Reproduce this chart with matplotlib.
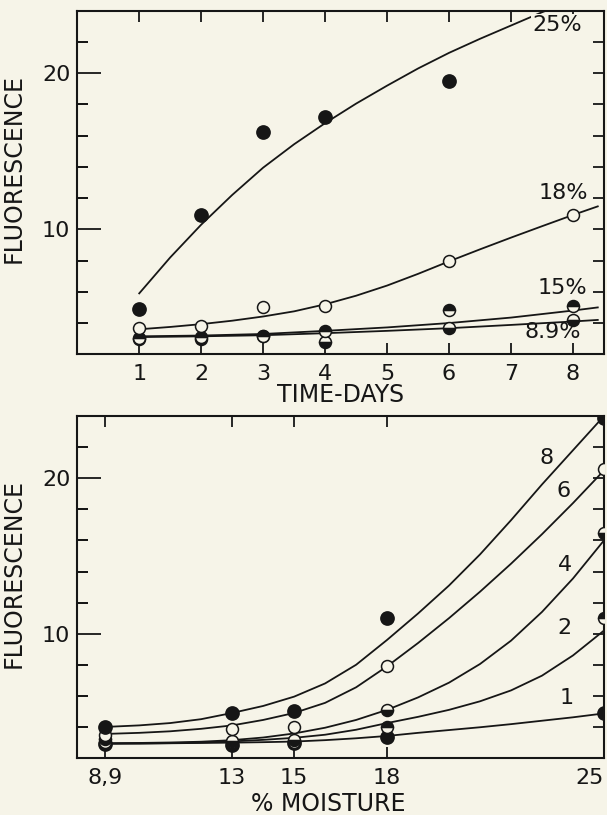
import numpy as np
import matplotlib
matplotlib.use("Agg")
import matplotlib.pyplot as plt

# top panel: fluorescence against time, one series per moisture level
days = [1, 2, 3, 4, 6, 8]
pts25 = [4.9, 10.9, 16.2, 17.2, 19.5]          # days 1..6 only
pts18 = [3.7, 3.8, 5.05, 5.1, 8.0, 10.9]
pts15 = [3.05, 3.1, 3.2, 3.5, 4.85, 5.1]
pts89 = [3.0, 3.0, 3.15, 2.8, 3.7, 4.2]

# hand drawn curves
curveDays25 = [1, 1.5, 2, 2.5, 3, 3.5, 4, 4.5, 5, 5.5, 6, 6.5, 7, 7.5, 7.6]
curve25 = [5.9, 8.2, 10.3, 12.2, 13.95, 15.45, 16.8, 18.05, 19.2, 20.3, 21.3, 22.2, 23.05, 23.9, 24.05]
curveDays18 = [1, 1.5, 2, 2.5, 3, 3.5, 4, 4.5, 5, 5.5, 6, 6.5, 7, 7.5, 8, 8.4]
curve18 = [3.6, 3.75, 3.93, 4.15, 4.42, 4.75, 5.2, 5.75, 6.4, 7.15, 7.95, 8.72, 9.47, 10.2, 10.92, 11.47]
curveDays = [1, 2, 3, 4, 5, 6, 7, 8, 8.4]
curve15 = [3.15, 3.2, 3.3, 3.5, 3.72, 4.0, 4.35, 4.8, 5.0]
curve89 = [3.1, 3.15, 3.22, 3.35, 3.5, 3.67, 3.88, 4.1, 4.2]

# bottom panel: fluorescence against moisture, one series per day
moist = [8.9, 13, 15, 18, 25]
day8 = [4.0, 4.87, 5.05, 10.98, 23.9]
day6 = [3.5, 3.85, 3.97, 7.92, 20.6]
day4 = [3.2, 3.1, 3.15, 5.1, 16.5]
day2 = [3.0, 3.0, 3.05, 4.0, 11.0]
day1 = [2.9, 2.85, 2.95, 3.35, 4.87]

curveMoist = [8.9, 10, 11, 12, 13, 14, 15, 16, 17, 18, 19, 20, 21, 22, 23, 24, 25]
curveD8 = [4.0, 4.1, 4.25, 4.5, 4.9, 5.35, 5.95, 6.8, 8.0, 9.6, 11.3, 13.1, 15.1, 17.3, 19.6, 21.8, 24.0]
curveD6 = [3.55, 3.62, 3.72, 3.88, 4.1, 4.45, 4.9, 5.55, 6.55, 7.9, 9.4, 11.0, 12.7, 14.5, 16.4, 18.4, 20.5]
curveD4 = [2.95, 2.97, 3.0, 3.05, 3.15, 3.32, 3.58, 3.95, 4.45, 5.1, 5.9, 6.85, 8.05, 9.55, 11.4, 13.55, 16.0]
curveD2 = [2.93, 2.94, 2.96, 3.0, 3.07, 3.17, 3.3, 3.5, 3.82, 4.25, 4.65, 5.1, 5.65, 6.35, 7.3, 8.6, 10.2]
curveD1 = [2.92, 2.93, 2.95, 2.97, 2.99, 3.02, 3.06, 3.15, 3.27, 3.42, 3.62, 3.8, 3.98, 4.18, 4.4, 4.62, 4.87]

bg = '#f6f4e8'
ink = '#161616'
plt.rcParams['font.family'] = ['DejaVu Sans']

fig = plt.figure(figsize=(6.07, 8.15), dpi=100, facecolor=bg)


def styleAxes(ax, xlim, xticks, xlabels, topticks, xlabel, xlabelPos):
    ax.set_facecolor(bg)
    ax.set_xlim(xlim)
    ax.set_ylim(2, 24)
    for s in ax.spines.values():
        s.set_linewidth(1.5)
        s.set_color(ink)
    ax.set_xticks(xticks)
    ax.set_xticklabels(xlabels)
    ax.set_yticks([10, 20])
    ax.set_yticks([4, 6, 8, 12, 14, 16, 18, 22], minor=True)
    ax.tick_params(axis='x', direction='in', length=8, width=1.3, pad=7,
                   labelsize=16, colors=ink, top=False)
    ax.tick_params(axis='y', which='major', direction='in', length=17, width=1.3,
                   pad=5, labelsize=16, colors=ink, right=False)
    ax.tick_params(axis='y', which='minor', direction='in', length=8, width=1.3,
                   right=False)
    # right and top ticks, no labels
    sy = ax.secondary_yaxis('right')
    sy.set_yticks([4, 6, 8, 10, 12, 14, 16, 18, 20, 22])
    sy.tick_params(direction='in', length=8, width=1.3, labelright=False, colors=ink)
    sy.spines['right'].set_visible(False)
    sx = ax.secondary_xaxis('top')
    sx.set_xticks(topticks)
    sx.tick_params(direction='in', length=8, width=1.3, labeltop=False, colors=ink)
    sx.spines['top'].set_visible(False)
    ax.set_ylabel('FLUORESCENCE', fontsize=17, color=ink)
    ax.yaxis.set_label_coords(-0.099, 0.54)
    ax.set_xlabel(xlabel, fontsize=17, color=ink)
    ax.xaxis.set_label_coords(xlabelPos[0], xlabelPos[1])


lineKw = dict(color=ink, lw=1.3, zorder=2)
full = dict(marker='o', ls='none', ms=9.5, mfc=ink, mec=ink, mew=1.1, zorder=3)
hollow = dict(marker='o', ls='none', ms=8.6, mfc=bg, mec=ink, mew=1.1, zorder=3)
topHalf = dict(marker='o', ls='none', ms=8.6, mfc=ink, mfcalt=bg, mec=ink, mew=1.1,
               fillstyle='top', zorder=3)
bottomHalf = dict(marker='o', ls='none', ms=8.6, mfc=ink, mfcalt=bg, mec=ink, mew=1.1,
                  fillstyle='bottom', zorder=3)

# ---- top panel
ax1 = fig.add_axes([0.1273, 0.5653, 0.8677, 0.4216])
styleAxes(ax1, (0, 8.5), [1, 2, 3, 4, 5, 6, 7, 8],
          ['1', '2', '3', '4', '5', '6', '7', '8'], [1, 2, 3, 4, 5, 6, 7, 8],
          'TIME-DAYS', (0.5, -0.085))
ax1.plot(curveDays25, curve25, **lineKw)
ax1.plot(curveDays18, curve18, **lineKw)
ax1.plot(curveDays, curve15, **lineKw)
ax1.plot(curveDays, curve89, **lineKw)
ax1.plot(days, pts89, **bottomHalf)
ax1.plot(days, pts15, **topHalf)
ax1.plot(days, pts18, **hollow)
ax1.plot(days[:5], pts25, **full)
boxKw = dict(boxstyle='square,pad=0.05', fc=bg, ec='none')
ax1.text(7.74, 23.1, '25%', fontsize=16, color=ink, ha='center', va='center', bbox=boxKw, zorder=4)
ax1.text(7.84, 12.3, '18%', fontsize=16, color=ink, ha='center', va='center', bbox=boxKw, zorder=4)
ax1.text(7.83, 6.25, '15%', fontsize=16, color=ink, ha='center', va='center', bbox=boxKw, zorder=4)
ax1.text(7.68, 3.45, '8.9%', fontsize=16, color=ink, ha='center', va='center', zorder=4)

# ---- bottom panel
ax2 = fig.add_axes([0.1273, 0.0699, 0.8677, 0.4196])
styleAxes(ax2, (8, 25), [8.9, 13, 15, 18, 25], ['8,9', '13', '15', '18', '25'],
          [8.9, 13, 15, 18], '% MOISTURE', (0.476, -0.1))
ax2.get_xticklabels()[-1].set_horizontalalignment('right')
ax2.plot(curveMoist, curveD8, **lineKw)
ax2.plot(curveMoist, curveD6, **lineKw)
ax2.plot(curveMoist, curveD4, **lineKw)
ax2.plot(curveMoist, curveD2, **lineKw)
ax2.plot(curveMoist, curveD1, **lineKw)
ax2.plot(moist, day1, **full)
ax2.plot(moist, day2, **topHalf)
ax2.plot(moist, day4, **bottomHalf)
ax2.plot(moist, day6, **hollow)
ax2.plot(moist, day8, **full)
numKw = dict(fontsize=16, color=ink, ha='center', va='center', zorder=4)
ax2.text(23.15, 21.3, '8', **numKw)
ax2.text(23.69, 19.2, '6', **numKw)
ax2.text(23.74, 14.4, '4', **numKw)
ax2.text(23.74, 10.35, '2', **numKw)
ax2.text(23.8, 5.85, '1', **numKw)

fig.savefig('out.png', dpi=100, facecolor=bg)
